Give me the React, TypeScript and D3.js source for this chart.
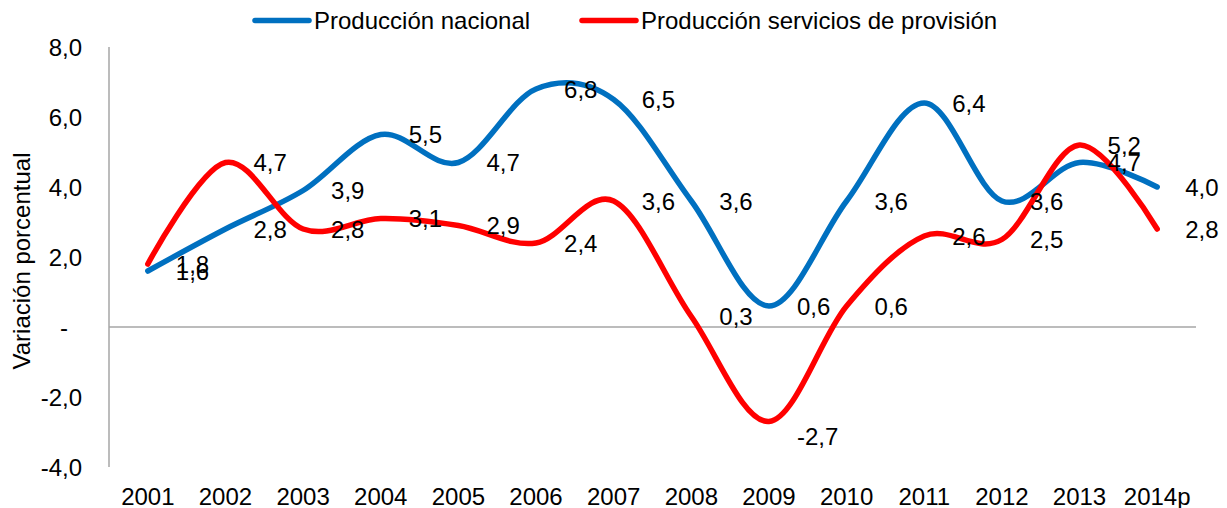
import * as d3 from 'd3';

const years = ['2001', '2002', '2003', '2004', '2005', '2006', '2007', '2008', '2009', '2010', '2011', '2012', '2013', '2014p'];
const nacional = [1.6, 2.8, 3.9, 5.5, 4.7, 6.8, 6.5, 3.6, 0.6, 3.6, 6.4, 3.6, 4.7, 4.0];
const provision = [1.8, 4.7, 2.8, 3.1, 2.9, 2.4, 3.6, 0.3, -2.7, 0.6, 2.6, 2.5, 5.2, 2.8];
const yTicks = [-4, -2, 0, 2, 4, 6, 8];

const width = 1227;
const height = 508;
const font = '"Liberation Sans", Arial, sans-serif';
const blue = '#0070C0';
const red = '#FF0000';
const grey = '#A6A6A6';

const fmt = (v: number) => v.toFixed(1).replace('.', ',');

export default function App() {
    const x = d3.scaleBand<string>().domain(years).range([109, 1196]);
    const y = d3.scaleLinear().domain([-4, 8]).range([467, 47]);
    const cx = (i: number) => (x(years[i]) ?? 0) + x.bandwidth() / 2;

    const line = d3
        .line<number>()
        .x((_, i) => cx(i))
        .y((d) => y(d))
        .curve(d3.curveCatmullRom.alpha(0));

    const series = [
        { name: 'Producción nacional', values: nacional, color: blue, legendX: 255 },
        { name: 'Producción servicios de provisión', values: provision, color: red, legendX: 582 },
    ];

    // Excel moved the -2,7 label a little below the point
    const labelDy = (v: number) => (v < -2 ? 15 : 0);

    return (
        <svg
            width={width}
            height={height}
            style={{ position: 'absolute', left: 0, top: 0, fontFamily: font }}
        >
            <rect width={width} height={height} fill="#fff" />

            {/* legend */}
            {series.map((s) => (
                <g key={s.name}>
                    <line
                        x1={s.legendX}
                        x2={s.legendX + 54}
                        y1={20.5}
                        y2={20.5}
                        stroke={s.color}
                        strokeWidth={5.5}
                        strokeLinecap="round"
                    />
                    <text x={s.legendX + 59} y={28.5} fontSize={24} fill="#000">
                        {s.name}
                    </text>
                </g>
            ))}

            {/* axes */}
            <line x1={109} x2={109} y1={y(8)} y2={y(-4)} stroke={grey} strokeWidth={1.5} />
            <line x1={109} x2={1196} y1={y(0)} y2={y(0)} stroke={grey} strokeWidth={1.5} />

            {yTicks.map((t) => (
                <text
                    key={t}
                    x={t === 0 ? 68 : 82}
                    y={y(t) + 8.5}
                    fontSize={24}
                    textAnchor="end"
                    fill="#000"
                >
                    {t === 0 ? '-' : fmt(t)}
                </text>
            ))}

            {years.map((yr, i) => (
                <text key={yr} x={cx(i)} y={505} fontSize={24} textAnchor="middle" fill="#000">
                    {yr}
                </text>
            ))}

            <text
                transform="translate(30,261) rotate(-90)"
                fontSize={24}
                textAnchor="middle"
                fill="#000"
            >
                Variación porcentual
            </text>

            {/* lines */}
            {series.map((s) => (
                <path
                    key={s.name}
                    d={line(s.values) ?? ''}
                    fill="none"
                    stroke={s.color}
                    strokeWidth={5.5}
                    strokeLinecap="round"
                    strokeLinejoin="round"
                />
            ))}

            {/* data labels */}
            {series.map((s) =>
                s.values.map((v, i) => (
                    <text
                        key={s.name + i}
                        x={cx(i) + 28}
                        y={y(v) + 8.5 + labelDy(v)}
                        fontSize={24}
                        fill="#000"
                    >
                        {fmt(v)}
                    </text>
                )),
            )}
        </svg>
    );
}
